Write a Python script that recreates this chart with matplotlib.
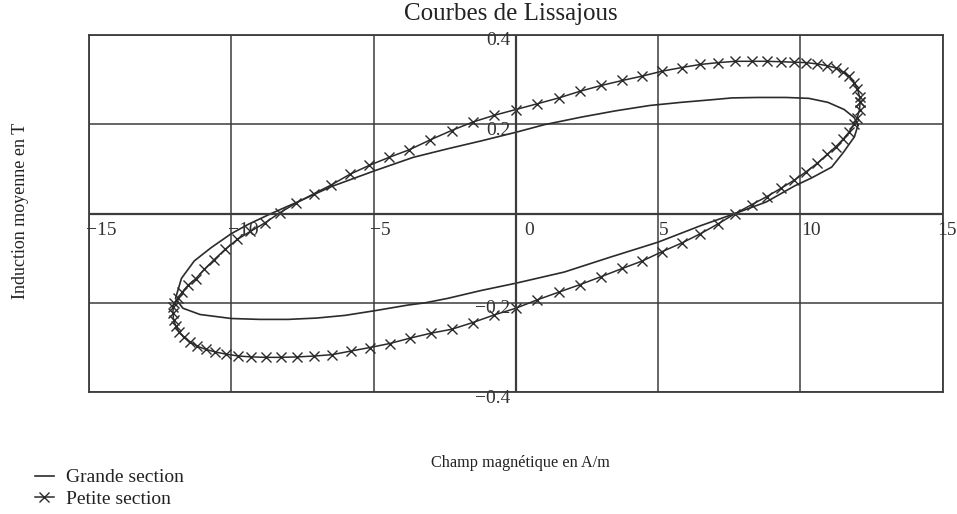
import numpy as np
import matplotlib
matplotlib.use("Agg")
import matplotlib.pyplot as plt
from matplotlib.lines import Line2D

plt.rcParams['font.family'] = ['Liberation Serif', 'DejaVu Serif']

# Grande section : champ H (A/m) et induction B (T)
h_grande = [12.03, 11.89, 11.54, 10.97, 10.3, 9.5, 8.5, 7.6, 6.9, 5.8, 4.7, 3.5, 2.3,
            1.0, 0.0, -1.2, -2.4, -3.6, -5.0, -6.5, -7.6, -8.6, -9.4, -10.0, -10.7,
            -11.3, -11.75, -11.96, -11.7, -11.1, -10.0, -9.0, -8.0, -7.0, -6.0, -5.0,
            -3.8, -3.2, -2.4, -1.2, 0.0, 1.7, 3.3, 5.0, 6.5, 7.7, 8.8, 9.8, 10.4,
            11.1, 11.5, 11.9, 12.03]
b_grande = [0.199, 0.215, 0.233, 0.249, 0.258, 0.260, 0.260, 0.259, 0.255, 0.249,
            0.242, 0.230, 0.216, 0.199, 0.182, 0.163, 0.145, 0.126, 0.095, 0.060,
            0.028, 0.000, -0.024, -0.045, -0.076, -0.106, -0.145, -0.190, -0.212,
            -0.226, -0.235, -0.237, -0.237, -0.234, -0.228, -0.218, -0.205, -0.200,
            -0.190, -0.172, -0.156, -0.131, -0.098, -0.064, -0.027, 0.000, 0.026,
            0.062, 0.080, 0.104, 0.136, 0.172, 0.199]

# Petite section : points mesures (un marqueur par point)
h_petite = [12.10, 12.08, 12.00, 11.88, 11.72, 11.51, 11.25, 10.95, 10.60, 10.21,
            9.79, 9.33, 8.82, 8.29, 7.71, 7.11, 6.49, 5.83, 5.15, 4.45,
            3.74, 3.01, 2.26, 1.51, 0.76, 0.00, -0.76, -1.51, -2.26, -3.01,
            -3.74, -4.45, -5.15, -5.83, -6.49, -7.11, -7.71, -8.29, -8.82, -9.33,
            -9.79, -10.21, -10.60, -10.95, -11.25, -11.51, -11.72, -11.88, -12.00, -12.04,
            -12.05, -12.03, -11.95, -11.83, -11.67, -11.46, -11.20, -10.90, -10.56, -10.17,
            -9.75, -9.29, -8.79, -8.26, -7.68, -7.08, -6.46, -5.81, -5.13, -4.43,
            -3.72, -2.99, -2.25, -1.51, -0.76, 0.00, 0.76, 1.51, 2.26, 3.01,
            3.74, 4.45, 5.15, 5.83, 6.49, 7.11, 7.71, 8.29, 8.82, 9.33,
            9.79, 10.21, 10.60, 10.95, 11.25, 11.51, 11.72, 11.88, 12.00, 12.08,
            12.10]
b_petite = [0.250, 0.262, 0.280, 0.293, 0.307, 0.316, 0.326, 0.331, 0.335, 0.338,
            0.339, 0.340, 0.341, 0.341, 0.341, 0.338, 0.334, 0.327, 0.319, 0.308,
            0.298, 0.287, 0.274, 0.259, 0.246, 0.233, 0.220, 0.205, 0.186, 0.165,
            0.143, 0.126, 0.108, 0.088, 0.064, 0.044, 0.024, 0.002, -0.021, -0.040,
            -0.058, -0.080, -0.103, -0.125, -0.146, -0.160, -0.176, -0.190, -0.200, -0.210,
            -0.222, -0.238, -0.252, -0.266, -0.277, -0.287, -0.297, -0.304, -0.310, -0.315,
            -0.319, -0.321, -0.322, -0.322, -0.321, -0.319, -0.316, -0.308, -0.300, -0.291,
            -0.279, -0.268, -0.259, -0.244, -0.227, -0.212, -0.193, -0.176, -0.159, -0.141,
            -0.123, -0.106, -0.085, -0.066, -0.045, -0.023, 0.000, 0.020, 0.038, 0.057,
            0.075, 0.094, 0.113, 0.133, 0.150, 0.167, 0.183, 0.200, 0.215, 0.233,
            0.250]

x_ticks = [-15, -10, -5, 0, 5, 10, 15]
y_ticks = [-0.4, -0.2, 0.2, 0.4]

ink = '#2b2b2b'
grid_col = '#3c3c3c'

fig = plt.figure(figsize=(9.57, 5.14), dpi=100)
ax = fig.add_axes([0.093, 0.237, 0.892, 0.695])

ax.plot(h_grande, b_grande, color=ink, lw=1.2)
ax.plot(h_petite, b_petite, color=ink, lw=1.1, marker='x', markersize=7, mew=1.0)

ax.set_xlim(-15, 15)
ax.set_ylim(-0.4, 0.4)
ax.set_xticks(x_ticks)
ax.set_yticks([-0.4, -0.2, 0, 0.2, 0.4])
ax.grid(True, color=grid_col, lw=1.1)
ax.tick_params(length=0, labelbottom=False, labelleft=False)
for s in ax.spines.values():
    s.set_color(grid_col)
    s.set_linewidth(1.3)
ax.axhline(0, color=grid_col, lw=1.6)
ax.axvline(0, color=grid_col, lw=1.6)

# graduations style Mathcad, posees contre les axes
for xv in x_ticks:
    txt = str(xv).replace('-', '\u2212')
    if xv == 0:
        dx = 0.3
    elif xv < 0:
        dx = -0.12
    elif xv == 15:
        dx = -0.2
    else:
        dx = 0.02
    ax.text(xv + dx, -0.018, txt, ha='left', va='top', fontsize=14, color='#333333')
for yv in y_ticks:
    txt = ('%.1f' % yv).replace('-', '\u2212')
    ax.text(-0.2, yv + 0.006, txt, ha='right', va='top', fontsize=14, color='#333333')

fig.text(0.534, 0.973, 'Courbes de Lissajous', ha='center', va='center', fontsize=18, color='#222222')
fig.text(0.544, 0.099, 'Champ magnétique en A/m', ha='center', va='center', fontsize=11.7, color='#222222')
fig.text(0.021, 0.59, 'Induction moyenne en T', ha='center', va='center', rotation=90,
         fontsize=13, color='#222222')

handles = [Line2D([], [], color=ink, lw=1.2),
           Line2D([], [], color=ink, lw=1.1, marker='x', markersize=7, mew=1.0)]
fig.legend(handles, ['Grande section', 'Petite section'], loc='lower left',
           bbox_to_anchor=(0.018, -0.022), frameon=False, fontsize=14, handlelength=1.0,
           handletextpad=0.6, labelspacing=0.2, labelcolor='#222222')

fig.savefig('out.png', dpi=100, facecolor='white')
